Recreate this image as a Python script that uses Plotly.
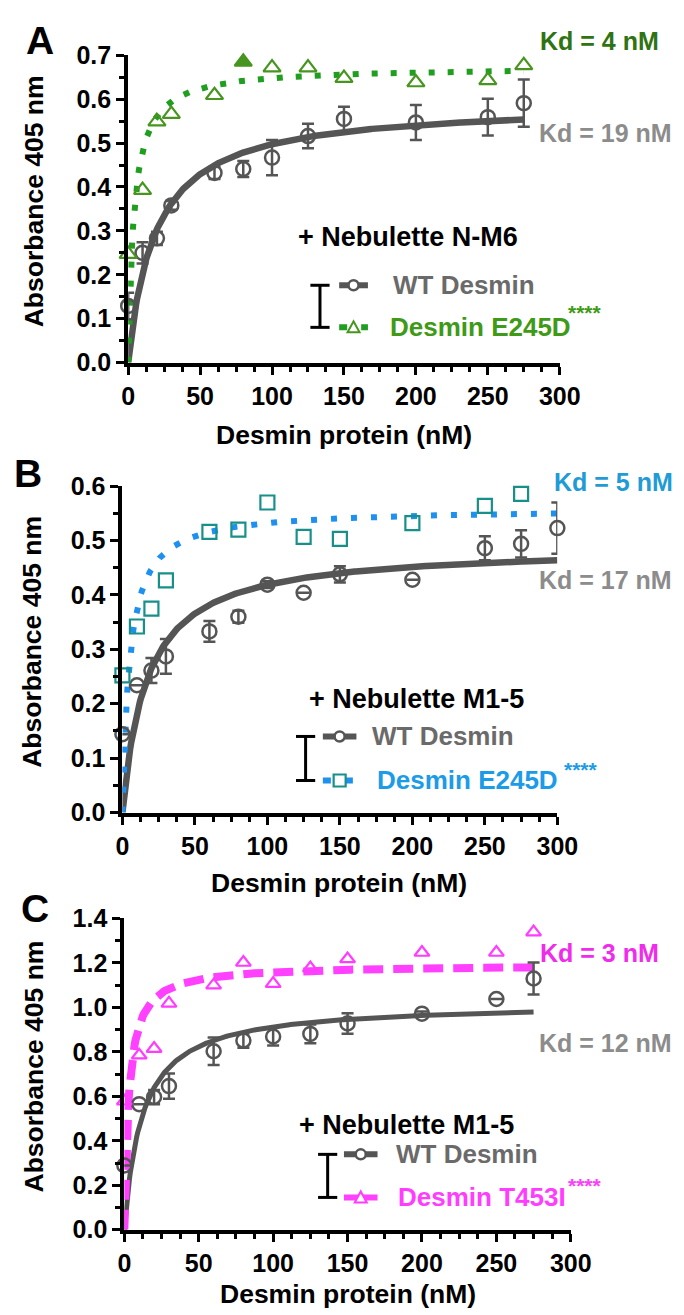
import numpy as np
import plotly.graph_objects as go

W, H = 684, 1315
FONT = "Liberation Sans, Arial, sans-serif"

# ---------------- data ----------------
# Panel A  (+ Nebulette N-M6)
conc_A_wt = [0, 10, 20, 30, 60, 80, 100, 125, 150, 200, 250, 275]
abs_A_wt = [0.129, 0.250, 0.283, 0.358, 0.432, 0.441, 0.467, 0.516, 0.555, 0.547, 0.559, 0.591]
err_A_wt = [0.030, 0.024, 0.015, 0.010, 0.014, 0.018, 0.040, 0.028, 0.028, 0.040, 0.042, 0.054]
conc_A_mut = [0, 10, 20, 30, 60, 80, 100, 125, 150, 200, 250, 275]
abs_A_mut = [0.247, 0.393, 0.549, 0.566, 0.609, 0.685, 0.672, 0.672, 0.648, 0.638, 0.643, 0.677]
filled_A_mut = [False, False, False, False, False, True, False, False, False, False, False, False]
kd_A_wt, bmax_A_wt = 19, 0.592
kd_A_mut, bmax_A_mut = 4, 0.674

# Panel B  (+ Nebulette M1-5, E245D)
conc_B_wt = [0, 10, 20, 30, 60, 80, 100, 125, 150, 200, 250, 275, 300]
abs_B_wt = [0.144, 0.234, 0.261, 0.287, 0.333, 0.360, 0.419, 0.404, 0.438, 0.428, 0.486, 0.494, 0.523]
err_B_wt = [0.0, 0.0, 0.023, 0.032, 0.019, 0.011, 0.006, 0.0, 0.015, 0.0, 0.022, 0.025, 0.047]
conc_B_mut = [0, 10, 20, 30, 60, 80, 100, 125, 150, 200, 250, 275]
abs_B_mut = [0.252, 0.342, 0.375, 0.427, 0.516, 0.520, 0.570, 0.507, 0.503, 0.532, 0.564, 0.586]
kd_B_wt, bmax_B_wt = 17, 0.490
kd_B_mut, bmax_B_mut = 5, 0.559

# Panel C  (+ Nebulette M1-5, T453I)
conc_C_wt = [0, 10, 20, 30, 60, 80, 100, 125, 150, 200, 250, 275]
abs_C_wt = [0.289, 0.565, 0.597, 0.646, 0.803, 0.851, 0.869, 0.881, 0.928, 0.972, 1.038, 1.130]
err_C_wt = [0.0, 0.0, 0.032, 0.057, 0.062, 0.032, 0.040, 0.042, 0.046, 0.010, 0.0, 0.072]
conc_C_mut = [0, 10, 20, 30, 60, 80, 100, 125, 150, 200, 250, 275]
abs_C_mut = [0.578, 0.785, 0.815, 1.018, 1.100, 1.202, 1.107, 1.177, 1.218, 1.247, 1.247, 1.339]
kd_C_wt, bmax_C_wt = 12, 1.022
kd_C_mut, bmax_C_mut = 3, 1.193

x_ticks = [0, 50, 100, 150, 200, 250, 300]
y_ticks_A = [0.0, 0.1, 0.2, 0.3, 0.4, 0.5, 0.6, 0.7]
y_ticks_B = [0.0, 0.1, 0.2, 0.3, 0.4, 0.5, 0.6]
y_ticks_C = [0.0, 0.2, 0.4, 0.6, 0.8, 1.0, 1.2, 1.4]

# ---------------- styling ----------------
GRAY_M = "#555555"
GRAY_T = "#6a6a6a"
GRAY_KD = "#8c8c8c"


def px(x):
    return x / W


def py(y):
    return 1 - y / H


def fit(kd, bmax, xmax):
    xs = np.linspace(0, xmax, 400)
    return xs, bmax * xs / (kd + xs)


panels = [
    dict(
        key="A", ax="", conc_wt=conc_A_wt, abs_wt=abs_A_wt, err_wt=err_A_wt,
        conc_mut=conc_A_mut, abs_mut=abs_A_mut,
        kd_wt=kd_A_wt, bmax_wt=bmax_A_wt, kd_mut=kd_A_mut, bmax_mut=bmax_A_mut,
        fit_end_wt=275, fit_end_mut=275,
        xdom=[118, 568], ybot=348, ytop=34, yrange=[0, 0.7], yticks=y_ticks_A, yminor=0.05,
        wt_lw=6.5,
        mut_color="#1f9e1f", mut_dash="6px,13px", mut_lw=6,
        mk_symbol=["triangle-up" if f else "triangle-up-open" for f in filled_A_mut],
        mk_color="#47951f", mk_size=15,
        mut_label="Desmin E245D", mut_label_color="#3f9a17",
        kd_mut_label="Kd = 4 nM", kd_mut_color="#2f7312", kd_mut_pos=(609, 19),
        kd_wt_label="Kd = 19 nM", kd_wt_pos=(616, 113),
        neb="+ Nebulette N-M6", neb_pos=(410, 220),
        brk_x=318, brk_y=(269, 312), samp_x=(338, 368), txt_x=(392, 389),
        stars_pos=(574, 297), stars_color="#3f9a17",
        letter_pos=(26, 19), ytitle_pos=(20, 183), xtitle_pos=(343, 422),
        legend_marker="tri",
    ),
    dict(
        key="B", ax="2", conc_wt=conc_B_wt, abs_wt=abs_B_wt, err_wt=err_B_wt,
        conc_mut=conc_B_mut, abs_mut=abs_B_mut,
        kd_wt=kd_B_wt, bmax_wt=bmax_B_wt, kd_mut=kd_B_mut, bmax_mut=bmax_B_mut,
        fit_end_wt=300, fit_end_mut=300,
        xdom=[112, 565.5], ybot=807.7, ytop=474.3, yrange=[0, 0.6], yticks=y_ticks_B, yminor=0.05,
        wt_lw=6.5,
        mut_color="#1e90f0", mut_dash="6px,14px", mut_lw=6,
        mk_symbol=["square-open"] * len(conc_B_mut),
        mk_color="#17908a", mk_size=14,
        mut_label="Desmin E245D", mut_label_color="#1c9be8",
        kd_mut_label="Kd = 5 nM", kd_mut_color="#1f9bd6", kd_mut_pos=(624, 470),
        kd_wt_label="Kd = 17 nM", kd_wt_pos=(616, 570),
        neb="+ Nebulette M1-5", neb_pos=(419, 692),
        brk_x=303, brk_y=(730, 775), samp_x=(321, 356), txt_x=(370, 375),
        stars_pos=(570, 764), stars_color="#1c9be8",
        letter_pos=(14, 461), ytitle_pos=(17, 633), xtitle_pos=(338, 880),
        legend_marker="sq",
    ),
    dict(
        key="C", ax="3", conc_wt=conc_C_wt, abs_wt=abs_C_wt, err_wt=err_C_wt,
        conc_mut=conc_C_mut, abs_mut=abs_C_mut,
        kd_wt=kd_C_wt, bmax_wt=bmax_C_wt, kd_mut=kd_C_mut, bmax_mut=bmax_C_mut,
        fit_end_wt=275, fit_end_mut=275,
        xdom=[114, 579.5], ybot=1234, ytop=916, yrange=[0, 1.4], yticks=y_ticks_C, yminor=0.1,
        wt_lw=5,
        mut_color="#ff40ff", mut_dash="20px,10px", mut_lw=8,
        mk_symbol=["triangle-up-open"] * len(conc_C_mut),
        mk_color="#ff3cff", mk_size=13,
        mut_label="Desmin T453I", mut_label_color="#ff3cff",
        kd_mut_label="Kd = 3 nM", kd_mut_color="#f02cec", kd_mut_pos=(609, 951),
        kd_wt_label="Kd = 12 nM", kd_wt_pos=(616, 1043),
        neb="+ Nebulette M1-5", neb_pos=(408, 1127),
        brk_x=326, brk_y=(1157, 1201), samp_x=(343, 378), txt_x=(395, 397),
        stars_pos=(574, 1189), stars_color="#ff3cff",
        letter_pos=(21, 906), ytitle_pos=(20, 1067), xtitle_pos=(347, 1300),
        legend_marker="tri",
    ),
]

fig = go.Figure()
annotations = []
shapes = []

for p in panels:
    xa = "x" + p["ax"]
    ya = "y" + p["ax"]
    # fitted curves (one-site binding, from the Kd/Bmax)
    xs, ys = fit(p["kd_wt"], p["bmax_wt"], p["fit_end_wt"])
    fig.add_trace(go.Scatter(x=xs, y=ys, mode="lines", xaxis=xa, yaxis=ya,
                             line=dict(color=GRAY_M, width=p["wt_lw"]), cliponaxis=False,
                             hoverinfo="skip"))
    xs, ys = fit(p["kd_mut"], p["bmax_mut"], p["fit_end_mut"])
    fig.add_trace(go.Scatter(x=xs, y=ys, mode="lines", xaxis=xa, yaxis=ya,
                             line=dict(color=p["mut_color"], width=p["mut_lw"], dash=p["mut_dash"]),
                             cliponaxis=False, hoverinfo="skip"))
    # data points
    fig.add_trace(go.Scatter(x=p["conc_wt"], y=p["abs_wt"], mode="markers", xaxis=xa, yaxis=ya,
                             marker=dict(symbol="circle-open", size=14, color=GRAY_M,
                                         line=dict(width=2.5, color=GRAY_M)),
                             error_y=dict(type="data", array=p["err_wt"], color=GRAY_M,
                                          thickness=2.5, width=6),
                             cliponaxis=False))
    fig.add_trace(go.Scatter(x=p["conc_mut"], y=p["abs_mut"], mode="markers", xaxis=xa, yaxis=ya,
                             marker=dict(symbol=p["mk_symbol"], size=p["mk_size"], color=p["mk_color"],
                                         line=dict(width=2.2, color=p["mk_color"])),
                             cliponaxis=False))

    axis_common = dict(showgrid=False, zeroline=False, showline=True, linecolor="black",
                       linewidth=4, ticks="outside", ticklen=8, tickwidth=3, tickcolor="black",
                       tickfont=dict(family=FONT, size=25, color="black", weight="bold"))
    fig.update_layout(**{
        ("xaxis" + p["ax"]): dict(domain=[px(p["xdom"][0]), px(p["xdom"][1])], anchor=ya,
                                  range=[0, 300], tickvals=x_ticks,
                                  minor=dict(dtick=12.5, ticks="outside", ticklen=5, tickwidth=3,
                                             tickcolor="black"),
                                  **axis_common),
        ("yaxis" + p["ax"]): dict(domain=[py(p["ybot"]), py(p["ytop"])], anchor=xa,
                                  range=p["yrange"], tickvals=p["yticks"], tickformat=".1f",
                                  minor=dict(dtick=p["yminor"], ticks="outside", ticklen=5,
                                             tickwidth=3, tickcolor="black"),
                                  **axis_common),
    })

    def ann(text, pos, size=25, color="black", xanchor="center", angle=0):
        annotations.append(dict(text=text, x=px(pos[0]), y=py(pos[1]), xref="paper", yref="paper",
                                xanchor=xanchor, yanchor="middle", showarrow=False, textangle=angle,
                                font=dict(family=FONT, size=size, color=color, weight="bold")))

    ann(p["key"], p["letter_pos"], size=39)
    ann("Absorbance 405 nm", p["ytitle_pos"], size=26.5, angle=-90)
    ann("Desmin protein (nM)", p["xtitle_pos"], size=26.5)
    ann(p["kd_mut_label"], p["kd_mut_pos"], color=p["kd_mut_color"])
    ann(p["kd_wt_label"], p["kd_wt_pos"], color=GRAY_KD)
    ann(p["neb"], p["neb_pos"], size=27)
    ann("WT Desmin", (p["txt_x"][0], p["brk_y"][0]), size=26, color=GRAY_T, xanchor="left")
    ann(p["mut_label"], (p["txt_x"][1], p["brk_y"][1]), size=26, color=p["mut_label_color"],
        xanchor="left")
    ann("****", p["stars_pos"], size=21, color=p["stars_color"], xanchor="left")

    # legend bracket
    bx = p["brk_x"]
    y0, y1 = p["brk_y"]
    for seg in [(bx, y0, bx, y1), (bx - 10, y0, bx + 10, y0), (bx - 10, y1, bx + 10, y1)]:
        shapes.append(dict(type="line", xref="paper", yref="paper",
                           x0=px(seg[0]), y0=py(seg[1]), x1=px(seg[2]), y1=py(seg[3]),
                           line=dict(color="black", width=3)))
    sx0, sx1 = p["samp_x"]
    sxm = (sx0 + sx1) / 2
    # WT legend sample
    shapes.append(dict(type="line", xref="paper", yref="paper", x0=px(sx0), y0=py(y0),
                       x1=px(sx1), y1=py(y0), line=dict(color=GRAY_M, width=6)))
    shapes.append(dict(type="circle", xref="paper", yref="paper", xsizemode="pixel",
                       ysizemode="pixel", xanchor=px(sxm), yanchor=py(y0),
                       x0=-5, x1=5, y0=-5, y1=5, fillcolor="white",
                       line=dict(color=GRAY_M, width=2.5)))
    # mutant legend sample
    shapes.append(dict(type="line", xref="paper", yref="paper", x0=px(sx0), y0=py(y1),
                       x1=px(sx1), y1=py(y1),
                       line=dict(color=p["mut_color"], width=6,
                                 dash="8px,14px" if p["key"] != "C" else "solid")))
    if p["legend_marker"] == "tri":
        path = "M -6 -5 L 6 -5 L 0 6 Z"
        shapes.append(dict(type="path", xref="paper", yref="paper", xsizemode="pixel",
                           ysizemode="pixel", xanchor=px(sxm), yanchor=py(y1), path=path,
                           fillcolor="white", line=dict(color=p["mk_color"], width=2)))
    else:
        shapes.append(dict(type="rect", xref="paper", yref="paper", xsizemode="pixel",
                           ysizemode="pixel", xanchor=px(sxm), yanchor=py(y1),
                           x0=-6, x1=6, y0=-6, y1=6, fillcolor="white",
                           line=dict(color=p["mk_color"], width=2.2)))

fig.update_layout(width=W, height=H, margin=dict(l=0, r=0, t=0, b=0),
                  paper_bgcolor="white", plot_bgcolor="white", showlegend=False,
                  annotations=annotations, shapes=shapes)

fig.write_html("out.html")
